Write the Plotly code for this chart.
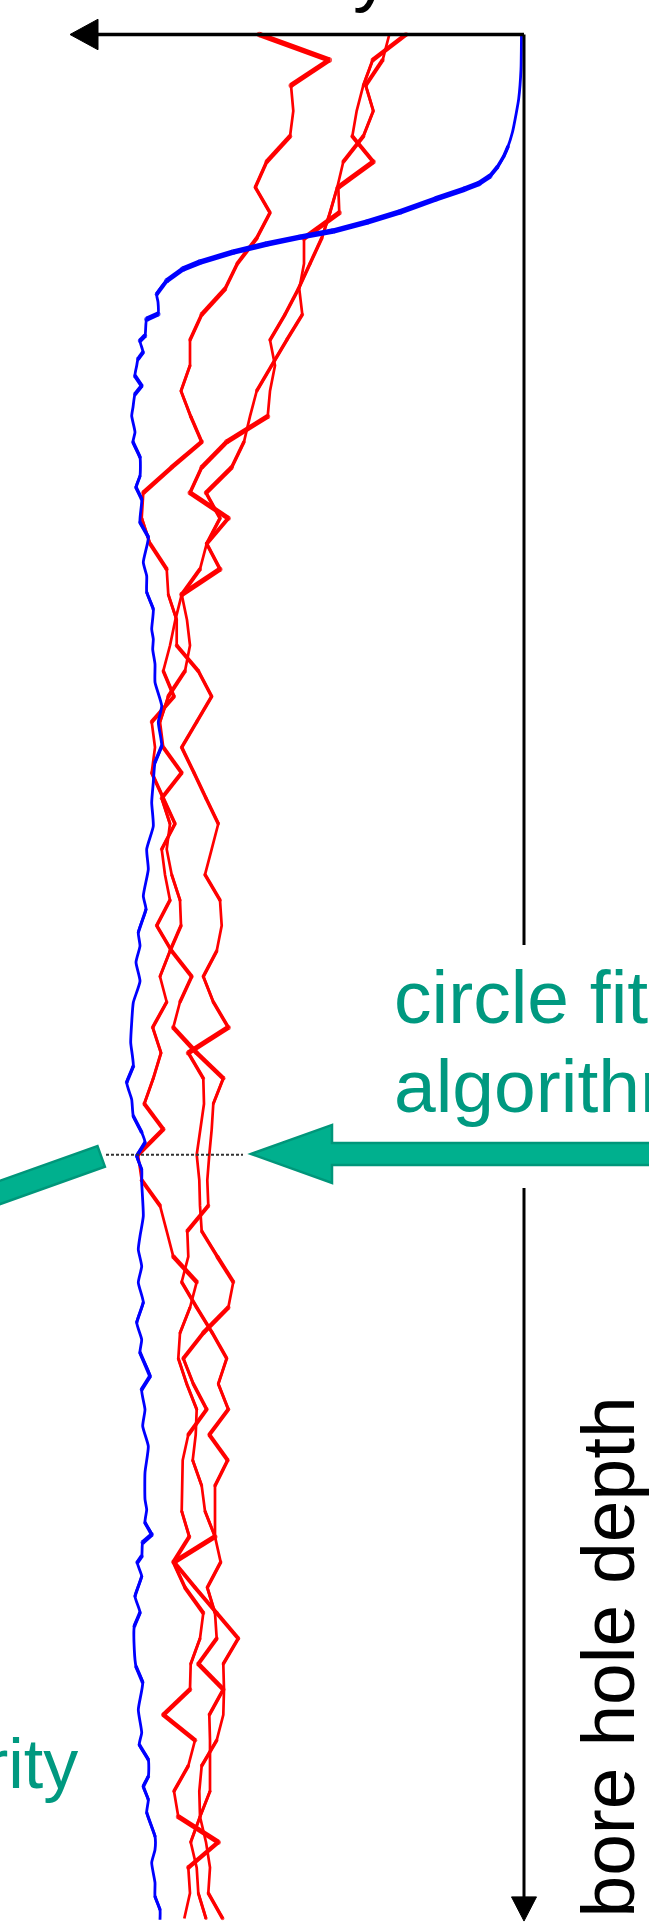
import math
import plotly.graph_objects as go

# Depth samples of the three repeated calliper scans (m below the collar)
scan_depth = list(range(75))

# Horizontal reading of each scan, measured leftwards from the depth axis
scan_a = [264.7, 194.7, 233, 230.7, 234, 257.3, 268.7, 254, 267.3, 286.7,
          299, 322.3, 334, 334, 343, 333.3, 322.3, 352.3, 380.7, 382.3,
          374, 357.3, 355.7, 347.3, 347.3,
          325.7, 312.3, 327.3, 342.3, 330, 318, 305.7, 312.3, 319, 304,
          302.3, 307.3, 320.7, 310.7, 295.7, 335.7, 320.7, 320, 324, 327.3,
          324.7, 324, 322.3, 306.7, 290.7, 295.7, 320.7, 340.7, 330.7, 317.3,
          335.7, 341.3, 341.7, 342.3, 334.7, 350.7, 339, 320.7, 324,
          333.3, 334, 360.7, 329, 335.7, 350, 345.7, 305.7, 335.7, 334, 339.7]

scan_b = [134.7, 141.3, 158.3, 150.7, 160.7, 180.7, 186.7, 194, 202.3, 214,
          225.7, 239, 254, 249, 254, 256.3, 297.3, 322.3, 334, 295.7,
          317.3, 324, 342.3, 337, 334,
          339, 355.7, 364, 360.7, 342.3, 362.3, 354, 357.3, 352.3, 344,
          343, 354, 364, 357.3, 371.3, 363, 370.7, 379.7, 360.7, 386,
          382.3, 364, 357.3, 350.7, 327.3, 334, 344, 345.7, 337.3, 327.3,
          328.3, 331.3, 322.3, 319, 309, 303.3, 316.7, 309, 307.3,
          325.7, 300.7, 314.7, 314, 314, 314, 324, 333.3, 327.3, 325.7, 318]

scan_c = [118, 151.3, 160.7, 167.3, 171.7, 150.7, 185.7, 184.7, 220, 220,
          224.7, 221.7, 237.3, 252.3, 267.3, 274, 280, 292.3, 318, 304,
          317.3, 304, 342.3, 348.7, 354,
          360.7, 350, 372.3, 369, 372.3, 360.7, 349, 362.3, 359, 354,
          367.3, 352.3, 332.3, 344, 350.7, 327.3, 300.7, 310.7, 312.3, 314.7,
          316.7, 315.7, 336.7, 335.7, 342.3, 327.3, 311.7, 297.3, 305.7, 295.7,
          314.7, 296.3, 309, 309, 309, 350, 329, 307.3, 285.7,
          300.7, 300, 300.7, 307.3, 322.3, 324.7, 324, 318, 314, 315.7, 301.3]

# Smoothed reference profile (depth in m, reading in the same units)
profile_depth = [-0.05, 1.36, 2.53, 3.1, 3.83, 4.4, 4.77, 5.2, 5.56, 5.85,
                 6.07, 6.46, 6.97, 7.37,
                 7.72, 7.96, 8.23, 8.55, 8.94, 9.21, 9.67, 10.20, 10.51, 10.98,
                 11.18, 11.83, 12.03, 12.48, 12.75, 13.01, 13.41, 13.80, 14.13, 14.64,
                 14.98, 15.62, 16.01, 16.60, 17.34, 17.78, 18.25, 19.16, 19.74, 20.73,
                 21.27, 21.91, 22.57, 23.36, 23.75, 24.15, 24.73, 25.44, 26.37, 27.01,
                 27.94, 28.59, 29.37, 30.16, 31.09, 32.00, 32.79, 33.84, 34.36, 35.27,
                 35.80, 36.44, 37.18, 38.02, 38.80, 39.59, 40.52, 41.16, 41.83, 42.48,
                 43.12, 43.52, 44.05, 44.58, 45.09, 46.41, 47.20, 47.72, 48.38, 49.02,
                 49.80, 50.59, 51.26, 51.77, 52.70, 53.22, 54.01, 54.66, 55.45, 56.48,
                 57.54, 57.94, 58.45, 58.92, 59.23, 59.77, 60.02, 60.56, 61.34, 61.98,
                 62.52, 63.44, 64.10, 64.73, 65.80, 66.70, 67.17, 67.76, 68.42, 68.81,
                 69.33, 69.84, 70.77, 71.30, 71.81, 72.59, 73.13, 73.65, 74.05]
profile_value = [2.5, 3, 5.3, 7.8, 11.5, 16, 20, 26.5, 34, 45,
                 59.3, 88.3, 124, 157.3,
                 191, 224, 257.3, 291, 324, 341, 357.3, 367.3, 366, 366,
                 377.3, 379, 384, 381, 386, 387.3, 389, 382.3, 389, 391,
                 392.3, 389, 391, 384, 384, 388, 382.3, 384, 375.7, 380.7,
                 377.3, 377.3, 370.7, 372.3, 370.7, 371.3, 369, 369, 362.3, 365.7,
                 362.3, 369, 370.7, 372.3, 370.7, 377.3, 375.7, 380.7, 378, 385.7,
                 384, 388, 384, 390.7, 392.3, 393.3, 390.7, 397.3, 392.3, 390.7,
                 382.3, 379, 387.3, 382.3, 382.3, 380.7, 384, 385.7, 382.3, 385.7,
                 380.7, 387.3, 382.3, 384, 374, 382.3, 379, 381.3, 375.7, 379,
                 379, 377.3, 379, 372.3, 381.3, 382.3, 386.7, 382.3, 389, 384,
                 389.7, 389.7, 388, 381.3, 385.7, 382.3, 384.7, 375.7, 375.7, 380.7,
                 375.7, 377.3, 369, 369, 372.3, 369, 369, 364, 364]

# Depth picked by the circle fit
picked_depth = 44.0

FONT = "Liberation Sans, Arial, sans-serif"
TEAL_TEXT = "rgb(0,153,128)"
TEAL_FILL = "rgb(0,176,142)"
TEAL_EDGE = "rgb(0,150,122)"

W, H = 649, 1924
X_RANGE = [524, -125]
Y_RANGE = [74.215, -1.355]
PX_X = W / abs(X_RANGE[1] - X_RANGE[0])
PX_Y = H / abs(Y_RANGE[1] - Y_RANGE[0])

# The plotter pen is taller than it is wide, so flat strokes come out heavier
PEN_HALF_X, PEN_HALF_Y = 1.35, 2.8


def pen_width(v0, d0, v1, d1):
    dx = (v1 - v0) * PX_X
    dy = (d1 - d0) * PX_Y
    length = math.hypot(dx, dy) or 1.0
    nx, ny = -dy / length, dx / length
    return 2 * math.sqrt((PEN_HALF_X * nx) ** 2 + (PEN_HALF_Y * ny) ** 2)


def add_pen_curve(fig, xs, ys, color, base_width, shape="linear"):
    fig.add_trace(go.Scatter(
        x=xs, y=ys, mode="lines",
        line=dict(color=color, width=base_width, shape=shape, smoothing=0.5),
        hoverinfo="skip", showlegend=False))
    groups = {}
    joint = [0.0] * len(xs)
    for i in range(len(xs) - 1):
        w = pen_width(xs[i], ys[i], xs[i + 1], ys[i + 1])
        if w <= base_width + 0.3:
            continue
        key = round(w * 2) / 2
        gx, gy = groups.setdefault(key, ([], []))
        gx += [xs[i], xs[i + 1], None]
        gy += [ys[i], ys[i + 1], None]
        joint[i] = max(joint[i], key)
        joint[i + 1] = max(joint[i + 1], key)
    for key, (gx, gy) in sorted(groups.items()):
        fig.add_trace(go.Scatter(
            x=gx, y=gy, mode="lines", connectgaps=False,
            line=dict(color=color, width=key),
            hoverinfo="skip", showlegend=False))
    jx = [x for x, s in zip(xs, joint) if s > 0]
    jy = [y for y, s in zip(ys, joint) if s > 0]
    js = [s for s in joint if s > 0]
    if jx:
        fig.add_trace(go.Scatter(
            x=jx, y=jy, mode="markers",
            marker=dict(color=color, size=js, line=dict(width=0)),
            hoverinfo="skip", showlegend=False))


fig = go.Figure()

for scan in (scan_a, scan_b, scan_c):
    add_pen_curve(fig, scan, scan_depth, "#ff0000", 2.7)

add_pen_curve(fig, profile_value, profile_depth, "#0000ff", 2.8, shape="spline")

shapes = [
    # reading axis (points left)
    dict(type="line", x0=0, x1=428, y0=0, y1=0, line=dict(color="black", width=3.3)),
    dict(type="path", path="M 454 0 L 426 -0.6 L 426 0.6 Z",
         fillcolor="black", line=dict(color="black", width=1)),
    # depth axis, interrupted behind the label
    dict(type="line", x0=0, x1=0, y0=0, y1=35.76, line=dict(color="black", width=3)),
    dict(type="line", x0=0, x1=0, y0=45.31, y1=73.3, line=dict(color="black", width=3)),
    dict(type="path", path="M 0 74.1 L 12.5 73.15 L -12.5 73.15 Z",
         fillcolor="black", line=dict(color="black", width=1)),
    # pointer from the circle fit label
    dict(type="path",
         path="M 273 43.97 L 192 42.83 L 192 43.54 L -136 43.54 L -136 44.40 "
              "L 192 44.40 L 192 45.11 Z",
         fillcolor=TEAL_FILL, line=dict(color=TEAL_EDGE, width=2.5)),
    # pointer from the left-hand label
    dict(type="path", path="M 426.5 43.66 L 419.1 44.47 L 541.6 46.19 L 549 45.37 Z",
         fillcolor=TEAL_FILL, line=dict(color=TEAL_EDGE, width=2.5)),
    # picked depth marker
    dict(type="line", x0=418, x1=281, y0=picked_depth, y1=picked_depth,
         line=dict(color="#333333", width=2, dash="3px,2px")),
]

annotations = [
    dict(text="circle fit", x=132, y=37.80, xref="x", yref="y",
         xanchor="left", yanchor="middle", showarrow=False,
         font=dict(family=FONT, size=75, color=TEAL_TEXT)),
    dict(text="algorithm", x=132, y=41.30, xref="x", yref="y",
         xanchor="left", yanchor="middle", showarrow=False,
         font=dict(family=FONT, size=75, color=TEAL_TEXT)),
    dict(text="rity", x=444, y=67.93, xref="x", yref="y",
         xanchor="right", yanchor="middle", showarrow=False,
         font=dict(family=FONT, size=70, color=TEAL_TEXT)),
    dict(text="bore hole depth", x=-84, y=63.75, xref="x", yref="y",
         xanchor="center", yanchor="middle", textangle=-90, showarrow=False,
         font=dict(family=FONT, size=75, color="black")),
    dict(text="y", x=372 / 649, y=1 + 28 / 1924, xref="paper", yref="paper",
         xanchor="center", yanchor="middle", showarrow=False,
         font=dict(family=FONT, size=75, color="black")),
]

fig.update_layout(
    width=W, height=H,
    margin=dict(l=0, r=0, t=0, b=0, pad=0),
    paper_bgcolor="white", plot_bgcolor="white",
    xaxis=dict(range=X_RANGE, visible=False, fixedrange=True),
    yaxis=dict(range=Y_RANGE, visible=False, fixedrange=True),
    shapes=shapes,
    annotations=annotations,
    showlegend=False,
    hovermode=False,
)

fig.write_html("out.html", config={"displayModeBar": False, "staticPlot": True})
